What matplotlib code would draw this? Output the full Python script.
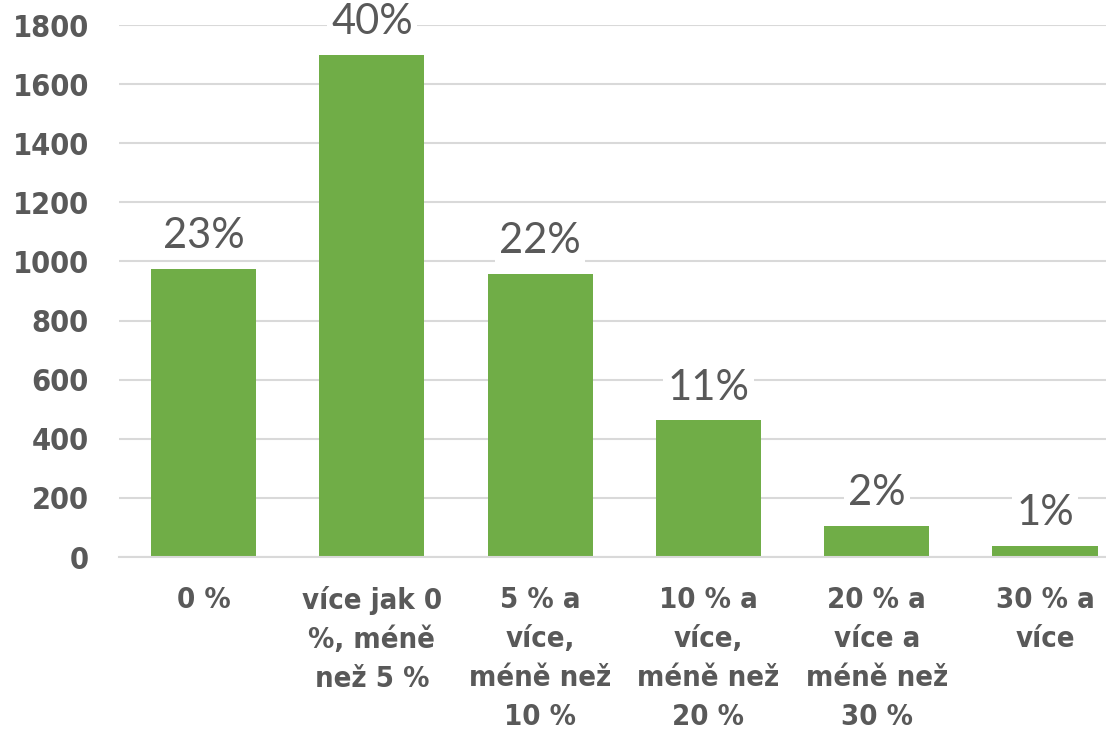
import matplotlib.pyplot as plt
import numpy as np

# Data
categories = ["0 %", "více jak 0\n%, méně\nnež 5 %", "5 % a\nvíce,\nméně než\n10 %",
              "10 % a\nvíce,\nméně než\n20 %", "20 % a\nvíce a\nméně než\n30 %", "30 % a\nvíce"]
counts = [976, 1700, 957, 462, 104, 36]
pct_labels = ["23%", "40%", "22%", "11%", "2%", "1%"]
yticks = [0, 200, 400, 600, 800, 1000, 1200, 1400, 1600, 1800]

green = "#70AD47"
txt = "#595959"
label_font = ["Lato", "DejaVu Sans"]

fig = plt.figure(figsize=(11.06, 7.31), dpi=100)
ax = fig.add_axes([0.108, 0.238, 0.913, 0.7278])

x = np.arange(len(categories))
ax.bar(x, counts, width=0.625, color=green, zorder=2)

for xi, c, lab in zip(x, counts, pct_labels):
    ax.annotate(lab, (xi, c), xytext=(0, 10), textcoords="offset points",
                ha="center", va="bottom", fontsize=30, color=txt,
                family=label_font, fontweight="normal", zorder=3,
                bbox=dict(boxstyle="square,pad=0.1", fc="white", ec="none"),
                annotation_clip=False)

ax.set_xlim(-0.5, len(categories) - 0.5)
ax.set_ylim(0, 1800)
ax.set_yticks(yticks)
ax.set_yticklabels([str(v) for v in yticks], family="DejaVu Sans", stretch="condensed",
                   fontweight="bold", fontsize=22, color=txt)
ax.set_xticks(x)
ax.set_xticklabels(categories, family="DejaVu Sans", stretch="condensed",
                   fontweight="bold", fontsize=21, color=txt, linespacing=1.5, va="top")
ax.tick_params(axis="both", length=0)
ax.tick_params(axis="x", pad=21)
ax.tick_params(axis="y", pad=22)

ax.grid(axis="y", color="#D9D9D9", linewidth=1.5, zorder=0)
ax.set_axisbelow(True)
for s in ["top", "right", "left"]:
    ax.spines[s].set_visible(False)
ax.spines["bottom"].set_color("#D9D9D9")
ax.spines["bottom"].set_linewidth(1.5)

fig.savefig("out.png", dpi=100)
